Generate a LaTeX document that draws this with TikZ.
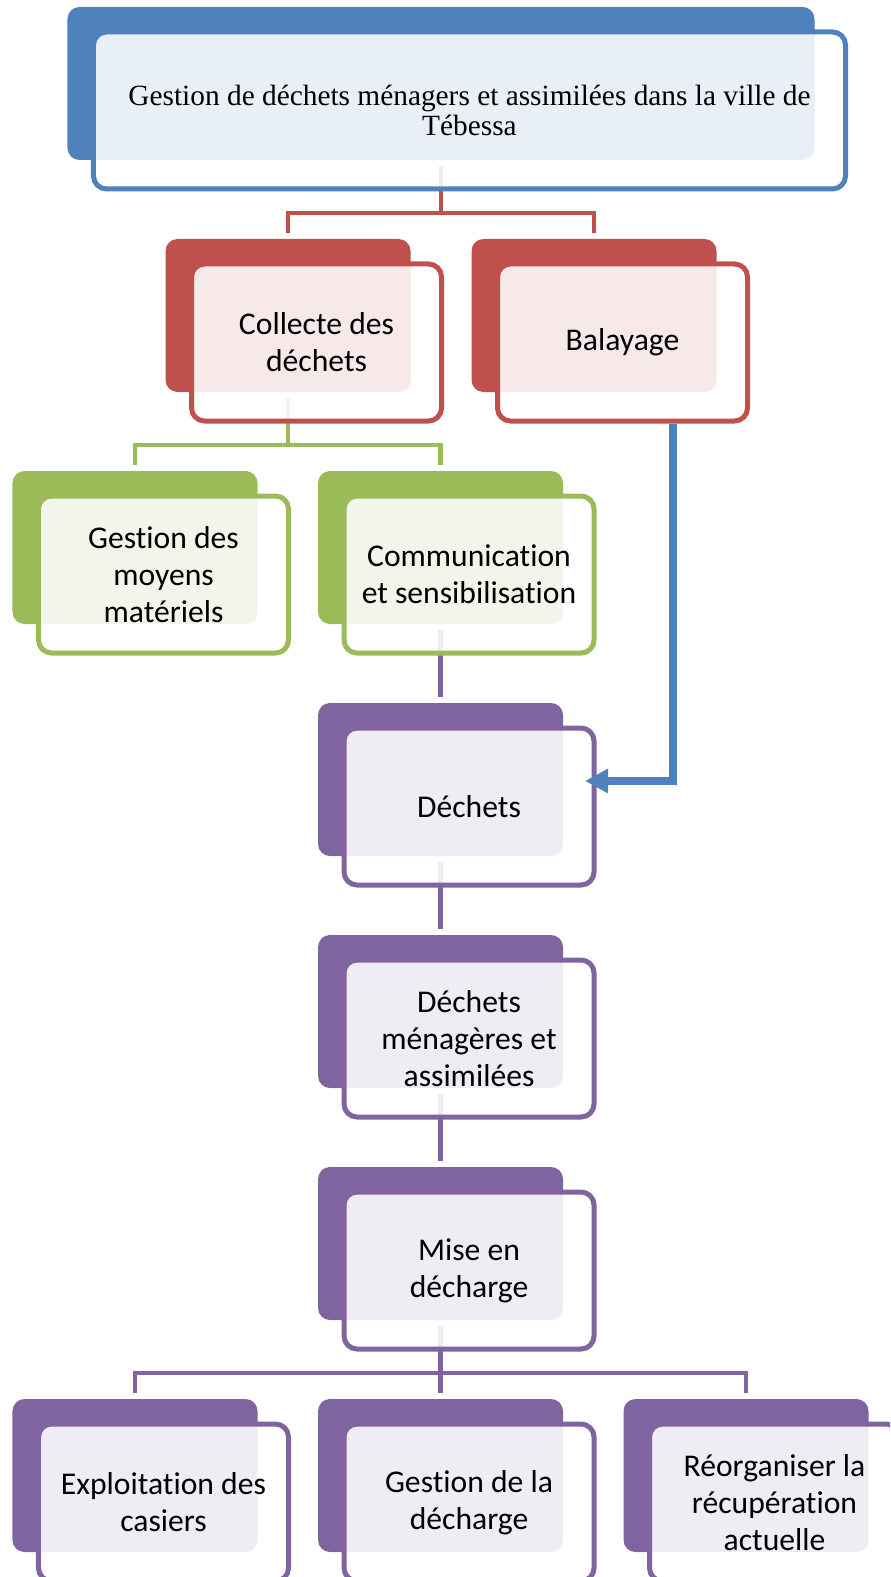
\documentclass[tikz,border=0pt]{standalone}
\usepackage{fontspec}
\setmainfont{Carlito}[Ligatures={NoCommon}]
\newfontfamily\titlefont{Liberation Serif}
\usepackage{tikz}
\usetikzlibrary{arrows.meta}
\definecolor{sablue}{HTML}{4F81BD}
\definecolor{sared}{HTML}{C0504D}
\definecolor{sagreen}{HTML}{9BBB59}
\definecolor{sapurple}{HTML}{8064A2}

\begin{document}
\begin{tikzpicture}[
    x=0.2mm, y=-0.2mm,
    backbox/.style={
      rectangle, rounded corners=2.4mm,
      fill=#1, draw=none, inner sep=0pt,
      minimum width=49mm, minimum height=30.6mm
    },
    frontbox/.style={
      rectangle, rounded corners=2.6mm,
      draw=#1, line width=1mm,
      fill=white, fill opacity=0.88, text opacity=1,
      outer sep=0pt, align=center,
      font=\fontsize{18}{21}\selectfont,
      minimum width=50mm, minimum height=31.4mm
    },
    conn/.style={draw=#1, line width=0.9mm, shorten <=1.2mm},
    flow/.style={draw=sablue, line width=1.5mm, shorten <=0.5mm,
      -{Triangle[length=4.6mm, width=4.6mm]}}
  ]

    % ── Frame (cropped like the original) ────────────────────────────────
    \clip (0,0) rectangle (890,1577);

    % ── Rows (y of back boxes): 83.5, 315.5, 547.5, 779.5, 1011.5, ... ──
    % ── Cols (x of back boxes): 135, 288, 440.5, 594, 746 ───────────────
    % front box = back box + (28.5, 27)

    % ── Junctions ────────────────────────────────────────────────────────
    \coordinate (j_titre)    at (441, 213);
    \coordinate (j_collecte) at (288, 445);
    \coordinate (j_mise)     at (440.5, 1373);
    \coordinate (tip)        at (585, 781);

    % ── Back boxes ───────────────────────────────────────────────────────
    \node[backbox=sablue, minimum width=149.4mm] (bk_titre) at (441, 83.5) {};
    \node[backbox=sared]    (bk_collecte) at (288,   315.5) {};
    \node[backbox=sared]    (bk_balayage) at (594,   315.5) {};
    \node[backbox=sagreen]  (bk_moyens)   at (135,   547.5) {};
    \node[backbox=sagreen]  (bk_comm)     at (440.5, 547.5) {};
    \node[backbox=sapurple] (bk_dechets)  at (440.5, 779.5) {};
    \node[backbox=sapurple] (bk_dma)      at (440.5, 1011.5) {};
    \node[backbox=sapurple] (bk_mise)     at (440.5, 1243.5) {};
    \node[backbox=sapurple] (bk_casiers)  at (135,   1475.5) {};
    \node[backbox=sapurple] (bk_gestion)  at (440.5, 1475.5) {};
    \node[backbox=sapurple] (bk_reorg)    at (746,   1475.5) {};

    % ── Connectors (under the front boxes) ───────────────────────────────
    \draw[conn=sared] (bk_titre.south) -- (j_titre);
    \draw[conn=sared, shorten >=1.2mm] (bk_collecte.north) |- (j_titre) -| (bk_balayage.north);

    \draw[conn=sagreen] (bk_collecte.south) -- (j_collecte);
    \draw[conn=sagreen, shorten >=1.2mm] (bk_moyens.north) |- (j_collecte) -| (bk_comm.north);

    \draw[conn=sapurple, shorten >=1.2mm] (bk_comm.south) -- (bk_dechets.north);
    \draw[conn=sapurple, shorten >=1.2mm] (bk_dechets.south) -- (bk_dma.north);
    \draw[conn=sapurple, shorten >=1.2mm] (bk_dma.south) -- (bk_mise.north);

    \draw[conn=sapurple] (bk_mise.south) -- (j_mise);
    \draw[conn=sapurple, shorten >=1.2mm] (bk_casiers.north) |- (j_mise) -| (bk_reorg.north);
    \draw[conn=sapurple] (bk_gestion.north) -- (j_mise);

    % ── Front boxes ──────────────────────────────────────────────────────
    \node[frontbox=sablue, minimum width=150.4mm,
          font=\titlefont\fontsize{16.7}{17}\selectfont] (titre) at (469.5, 110.5)
      {Gestion de déchets ménagers et assimilées dans la ville de\\Tébessa};

    \node[frontbox=sared] (collecte) at (316.5, 342.5) {Collecte des\\déchets};
    \node[frontbox=sared] (balayage) at (622.5, 342.5) {Balayage};

    \node[frontbox=sagreen] (moyens) at (163.5, 574.5) {Gestion des\\moyens\\matériels};
    \node[frontbox=sagreen] (comm)   at (469,   574.5) {Communication\\et sensibilisation};

    \node[frontbox=sapurple] (dechets) at (469, 806.5)  {Déchets};
    \node[frontbox=sapurple] (dma)     at (469, 1038.5) {Déchets\\ménagères et\\assimilées};
    \node[frontbox=sapurple] (mise)    at (469, 1270.5) {Mise en\\décharge};

    \node[frontbox=sapurple] (casiers) at (163.5, 1502.5) {Exploitation des\\casiers};
    \node[frontbox=sapurple] (gestion) at (469,   1502.5) {Gestion de la\\décharge};
    \node[frontbox=sapurple] (reorg)   at (774.5, 1502.5) {Réorganiser la\\récupération\\actuelle};

    % ── Arrow: balayage → déchets ────────────────────────────────────────
    \draw[flow] ([xshift=10.1mm]balayage.south) |- (tip);

  \end{tikzpicture}
\end{document}
